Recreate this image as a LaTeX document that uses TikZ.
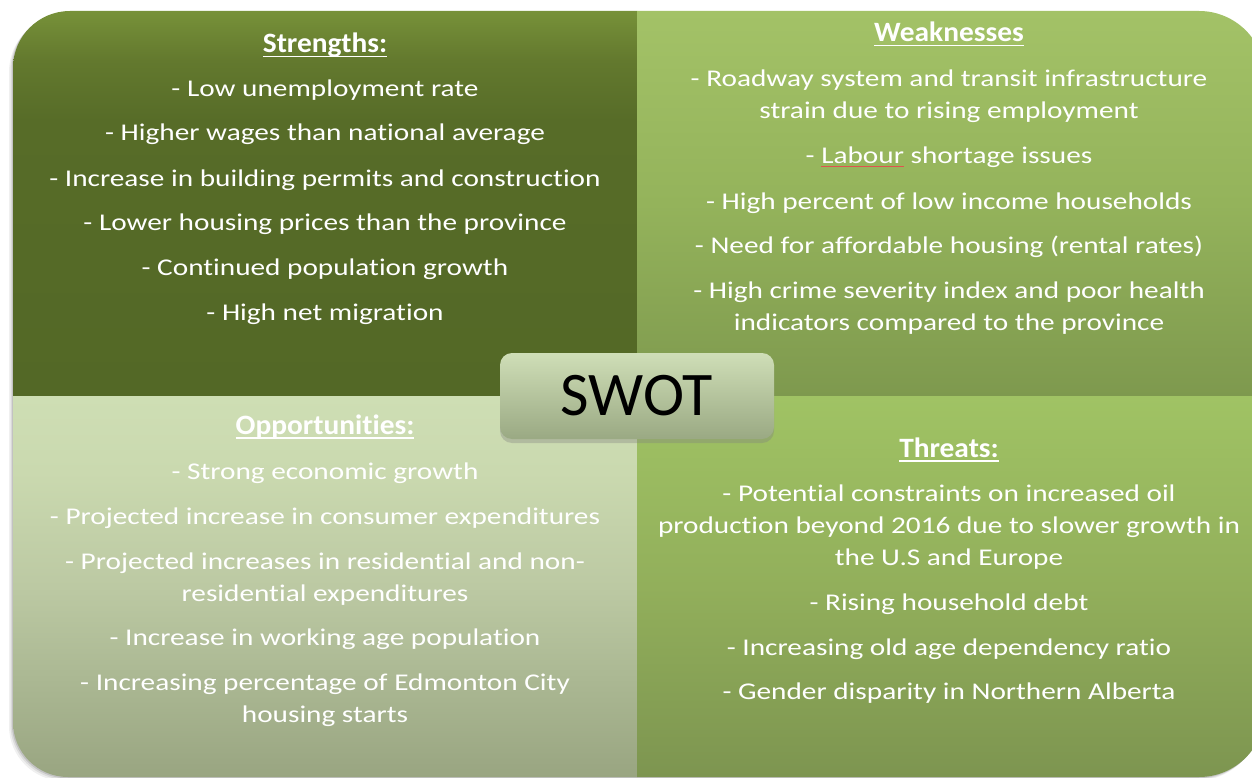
\documentclass[tikz,border=0pt]{standalone}
\usepackage{fontspec}
\setmainfont[Ligatures=NoCommon]{Carlito}
\newfontfamily\bodyfont[FakeStretch=1.22,Ligatures=NoCommon]{Carlito}
\newfontfamily\headfont[FakeStretch=1.05,Ligatures=NoCommon]{Carlito}
\newsavebox\ulbox
\definecolor{squigred}{HTML}{E0544F}
\newcommand\hul[1]{\sbox\ulbox{#1}\rlap{\rule[-4.5pt]{\wd\ulbox}{1.8pt}}\usebox\ulbox}
\newcommand\squig[1]{\sbox\ulbox{#1}\rlap{\textcolor{squigred}{\rule[-3.5pt]{\wd\ulbox}{1pt}}}\usebox\ulbox}
\usetikzlibrary{shadows}

\definecolor{tlA}{HTML}{779139}
\definecolor{tlB}{HTML}{63792E}
\definecolor{tlC}{HTML}{576C28}
\definecolor{tlD}{HTML}{536826}
\definecolor{trA}{HTML}{A3C267}
\definecolor{trB}{HTML}{94B35B}
\definecolor{trC}{HTML}{7E994E}
\definecolor{blA}{HTML}{CEDEB4}
\definecolor{blB}{HTML}{CAD9AF}
\definecolor{blC}{HTML}{BCC9A3}
\definecolor{blD}{HTML}{ABB893}
\definecolor{blE}{HTML}{99A581}
\definecolor{brA}{HTML}{A0C364}
\definecolor{brB}{HTML}{92AF5B}
\definecolor{brC}{HTML}{7D9550}
\definecolor{swA}{HTML}{CFDEB7}
\definecolor{swB}{HTML}{9AA983}

\pgfdeclareverticalshading{tlshade}{100bp}{color(0bp)=(tlD); color(25bp)=(tlD); color(60.8bp)=(tlC); color(68.6bp)=(tlB); color(75bp)=(tlA); color(100bp)=(tlA)}
\pgfdeclareverticalshading{trshade}{100bp}{color(0bp)=(trC); color(25bp)=(trC); color(50bp)=(trB); color(75bp)=(trA); color(100bp)=(trA)}
\pgfdeclareverticalshading{blshade}{100bp}{color(0bp)=(blE); color(25bp)=(blE); color(38bp)=(blD); color(50bp)=(blC); color(65bp)=(blB); color(75bp)=(blA); color(100bp)=(blA)}
\pgfdeclareverticalshading{brshade}{100bp}{color(0bp)=(brC); color(25bp)=(brC); color(50bp)=(brB); color(75bp)=(brA); color(100bp)=(brA)}

\tikzset{
  body/.style={font=\bodyfont\fontsize{24}{32}\selectfont, text=white, anchor=base, inner sep=0pt},
  head/.style={font=\headfont\bfseries\fontsize{28}{32}\selectfont, text=white, anchor=base, inner sep=0pt},
  swotbox/.style={rounded corners=12pt, minimum width=274pt, minimum height=86pt,
    top color=swA, bottom color=swB,
    drop shadow={shadow xshift=0pt, shadow yshift=-4pt, opacity=.35},
    font=\fontsize{62}{62}\selectfont, text=black, inner sep=0pt}
}

\begin{document}
\begin{tikzpicture}[x=1pt,y=-1pt]
\useasboundingbox (0,0) rectangle (1252,778);
\clip (0,0) rectangle (1252,778);
\fill[white] (0,0) rectangle (1252,778);

% soft outer shadow
\foreach \s/\o in {4/0.06,2.5/0.08,1.2/0.12}{
  \fill[black, opacity=\o, xshift=-\s pt, yshift=-\s pt]
    (13,68) arc[start angle=180,end angle=270,radius=57] -- (1199,11)
    arc[start angle=270,end angle=360,radius=66] -- (1265,711)
    arc[start angle=0,end angle=90,radius=66] -- (68,777)
    arc[start angle=90,end angle=180,radius=55] -- cycle;
}

% quadrants
\shade[shading=tlshade] (637,396) -- (13,396) -- (13,68)
  arc[start angle=180,end angle=270,radius=57] -- (637,11) -- cycle;
\shade[shading=trshade] (637,11) -- (1199,11)
  arc[start angle=270,end angle=360,radius=66] -- (1265,396) -- (637,396) -- cycle;
\shade[shading=blshade] (13,396) -- (637,396) -- (637,777) -- (68,777)
  arc[start angle=90,end angle=180,radius=55] -- cycle;
\shade[shading=brshade] (637,396) -- (1265,396) -- (1265,711)
  arc[start angle=0,end angle=90,radius=66] -- (637,777) -- cycle;

% Strengths
\node[head] (s0) at (325,53) {\hul{Strengths:}};
\node[body] (s1) at (325,97) {- Low unemployment rate};
\node[body] (s2) at (325,141) {- Higher wages than national average};
\node[body] (s3) at (325,186) {- Increase in building permits and construction};
\node[body] (s4) at (325,230) {- Lower housing prices than the province};
\node[body] (s5) at (325,275) {- Continued population growth};
\node[body] (s6) at (325,320) {- High net migration};

% Weaknesses
\node[head] (w0) at (949,42) {\hul{Weaknesses}};
\node[body] (w1) at (949,87) {- Roadway system and transit infrastructure};
\node[body] (w2) at (949,119) {strain due to rising employment};
\node[body] (w3) at (949,164) {- \squig{Labour} shortage issues};
\node[body] (w4) at (949,209) {- High percent of low income households};
\node[body] (w5) at (949,253) {- Need for affordable housing (rental rates)};
\node[body] (w6) at (949,298) {- High crime severity index and poor health};
\node[body] (w7) at (949,330) {indicators compared to the province};

% Opportunities
\node[head] (o0) at (325,434) {\hul{Opportunities:}};
\node[body] (o1) at (325,479) {- Strong economic growth};
\node[body] (o2) at (325,524) {- Projected increase in consumer expenditures};
\node[body] (o3) at (325,569) {- Projected increases in residential and non-};
\node[body] (o4) at (325,601) {residential expenditures};
\node[body] (o5) at (325,645) {- Increase in working age population};
\node[body] (o6) at (325,690) {- Increasing percentage of Edmonton City};
\node[body] (o7) at (325,722) {housing starts};

% Threats
\node[head] (t0) at (949,457) {\hul{Threats:}};
\node[body] (t1) at (949,501) {- Potential constraints on increased oil};
\node[body] (t2) at (949,533) {production beyond 2016 due to slower growth in};
\node[body] (t3) at (949,565) {the U.S and Europe};
\node[body] (t4) at (949,610) {- Rising household debt};
\node[body] (t5) at (949,655) {- Increasing old age dependency ratio};
\node[body] (t6) at (949,699) {- Gender disparity in Northern Alberta};

% centre box
\node[swotbox] (swot) at (637,396) {SWOT};
\end{tikzpicture}
\end{document}
